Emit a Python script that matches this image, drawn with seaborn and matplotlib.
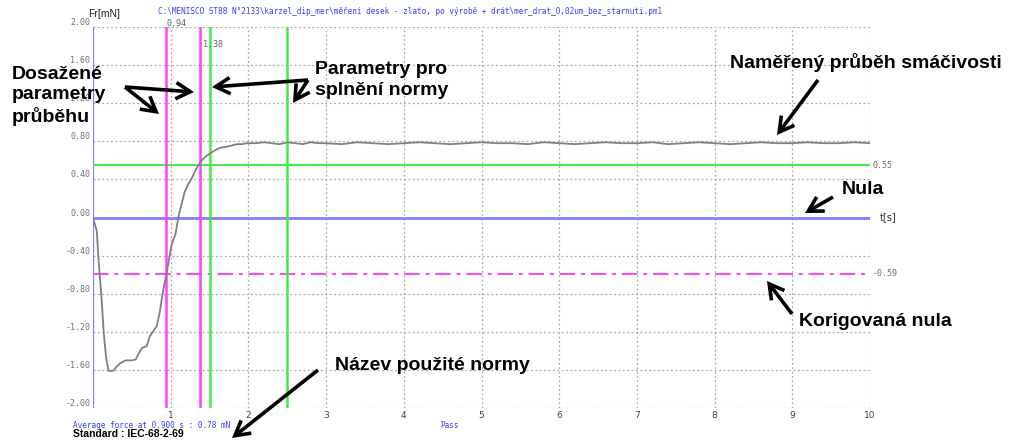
import matplotlib
matplotlib.use("Agg")
import matplotlib.pyplot as plt
from matplotlib.patches import FancyArrowPatch
import seaborn as sns
import pandas as pd

# ---------------- data ----------------
time_s = [0.0, 0.05, 0.07, 0.11, 0.14, 0.17, 0.20, 0.26, 0.30, 0.35, 0.42, 0.50,
          0.55, 0.58, 0.63, 0.69, 0.73, 0.82, 0.86, 0.90, 0.96, 1.01, 1.06, 1.10,
          1.14, 1.18, 1.22, 1.27, 1.31, 1.35, 1.40, 1.45, 1.50, 1.56, 1.63, 1.70,
          1.76, 1.85, 1.92, 1.98,
          2.1, 2.2, 2.3, 2.4, 2.5, 2.6, 2.7, 2.8, 2.9, 3.0, 3.2, 3.4, 3.6, 3.8,
          4.0, 4.2, 4.4, 4.6, 4.8, 5.0, 5.2, 5.4, 5.6, 5.8, 6.0, 6.2, 6.4, 6.6,
          6.8, 7.0, 7.2, 7.4, 7.6, 7.8, 8.0, 8.2, 8.4, 8.6, 8.8, 9.0, 9.2, 9.4,
          9.6, 9.8, 10.0]
force_mN = [0.0, -0.15, -0.43, -0.85, -1.23, -1.48, -1.61, -1.61, -1.57, -1.53, -1.50, -1.50,
            -1.49, -1.44, -1.37, -1.35, -1.25, -1.14, -0.99, -0.78, -0.53, -0.29, -0.18, 0.01,
            0.14, 0.27, 0.34, 0.41, 0.48, 0.54, 0.60, 0.64, 0.67, 0.70, 0.73, 0.74,
            0.75, 0.77, 0.77, 0.78,
            0.78, 0.79, 0.78, 0.77, 0.79, 0.78, 0.77, 0.79, 0.78, 0.78, 0.77, 0.79, 0.78, 0.77,
            0.78, 0.79, 0.78, 0.77, 0.78, 0.79, 0.78, 0.78, 0.77, 0.79, 0.78, 0.77, 0.78, 0.79,
            0.78, 0.78, 0.79, 0.77, 0.78, 0.79, 0.78, 0.77, 0.78, 0.79, 0.78, 0.78, 0.79, 0.78,
            0.78, 0.79, 0.78]

achieved_t = [0.94, 1.38]          # magenta vertical lines
norm_t = [1.5, 2.5]                # green vertical lines
norm_force = 0.55                  # green horizontal
corrected_zero = -0.59             # magenta dash-dot

x_ticks = [1, 2, 3, 4, 5, 6, 7, 8, 9, 10]
x_tick_labels = ["1", "2", "3", "4", "5", "6", "7", "8", "9", "10"]
y_ticks = [2.0, 1.6, 1.2, 0.8, 0.4, 0.0, -0.4, -0.8, -1.2, -1.6, -2.0]
y_tick_labels = ["2.00", "1.60", "1.20", "0.80", "0.40", "0.00", "-0.40", "-0.80",
                 "-1.20", "-1.60", "-2.00"]

title_path = ("C:\\MENISCO ST88 N\u00b02133\\karzel_dip_mer\\m\u011b\u0159en\u00ed desek - zlato, "
              "po v\u00fdrob\u011b + dr\u00e1t\\mer_drat_0,02um_bez_starnuti.pm1")

# ---------------- figure ----------------
sns.set_style("white")
W, H = 1011, 441
fig = plt.figure(figsize=(W / 100, H / 100), dpi=100)
ax = fig.add_axes([93 / W, (H - 408) / H, 777 / W, 381 / H])

BLUE = "#7f7fff"
MAG = "#ff40ff"
GREEN = "#40ee40"
GRID = "#a8a8a8"
MONO = "DejaVu Sans Mono"
BOLD = ["Liberation Sans", "DejaVu Sans"]

ax.set_xlim(0, 10)
ax.set_ylim(-2.0, 2.0)
for s in ax.spines.values():
    s.set_visible(False)

# dotted grid (incl. frame lines)
for xv in x_ticks:
    ax.axvline(xv, color=GRID, lw=0.9, ls=(0, (1.5, 2)), zorder=1)
for yv in y_ticks:
    ax.axhline(yv, color=GRID, lw=0.9, ls=(0, (1.5, 2)), zorder=1)

# reference lines
ax.axvline(0, color=BLUE, lw=1.6, zorder=3)
ax.axhline(0, color=BLUE, lw=2.0, zorder=3)
ax.axhline(norm_force, color=GREEN, lw=1.4, zorder=3)
ax.axhline(corrected_zero, color=MAG, lw=1.4, ls=(0, (8, 3, 2, 3)), zorder=3)
for tv in achieved_t:
    ax.axvline(tv, color=MAG, lw=1.8, zorder=3)
for tv in norm_t:
    ax.axvline(tv, color=GREEN, lw=1.8, zorder=3)

df = pd.DataFrame({"t": time_s, "F": force_mN})
sns.lineplot(data=df, x="t", y="F", ax=ax, color="#808080", lw=1.3, zorder=4)
ax.set_xlabel("")
ax.set_ylabel("")

ax.set_xticks(x_ticks)
ax.set_xticklabels(x_tick_labels, fontsize=6.5, color="#404040")
ax.set_yticks(y_ticks)
ax.set_yticklabels(y_tick_labels, fontsize=6, color="#707070", family=MONO, va="bottom")
ax.tick_params(axis="both", length=0, pad=2)

# small value labels
ax.text(achieved_t[0], 2.04, "0.94", fontsize=6, color="#606060", family=MONO,
        ha="left", va="center")
ax.text(achieved_t[1] + 0.03, 1.82, "1.38", fontsize=6, color="#606060", family=MONO,
        ha="left", va="center")
ax.text(10.03, norm_force, "0.55", fontsize=6, color="#707070", family=MONO,
        ha="left", va="center")
ax.text(10.03, corrected_zero, "-0.59", fontsize=6, color="#707070", family=MONO,
        ha="left", va="center")
ax.text(10.12, 0.0, "t[s]", fontsize=7, color="#303030", ha="left", va="center")


def fp(x, y):
    return (x / W, 1 - y / H)


fig.text(*fp(88, 14), "Fr[mN]", fontsize=7.5, color="#202020", ha="left", va="center",
         family=BOLD)
fig.text(*fp(158, 11), title_path, fontsize=5.5, color="#3a3aff", family=MONO,
         ha="left", va="center")
fig.text(*fp(73, 425), "Average force at 0.900 s : 0.78 mN", fontsize=5.5,
         color="#3a3aff", family=MONO, ha="left", va="center")
fig.text(*fp(440, 426), "Pass", fontsize=5.5, color="#3a3aff", family=MONO,
         ha="left", va="center")
fig.text(*fp(73, 434), "Standard : IEC-68-2-69", fontsize=7.5, color="black",
         family=BOLD, weight="bold", ha="left", va="center")

# big annotations
big = dict(fontsize=14, weight="bold", family=BOLD, color="black", ha="left",
           va="center", linespacing=1.25, zorder=12)
fig.text(*fp(12, 96), "Dosa\u017een\u00e9\nparametry\npr\u016fb\u011bhu", **big)
fig.text(*fp(315, 80), "Parametry pro\nspln\u011bn\u00ed normy", **big)
fig.text(*fp(730, 63), "Nam\u011b\u0159en\u00fd pr\u016fb\u011bh sm\u00e1\u010divosti", **big)
fig.text(*fp(842, 189), "Nula", **big)
fig.text(*fp(799, 322), "Korigovan\u00e1 nula", **big)
fig.text(*fp(335, 365), "N\u00e1zev pou\u017eit\u00e9 normy", **big)

arrows = [((125, 87), (194, 92)), ((125, 87), (159, 114)),
          ((308, 80), (212, 87)), ((308, 80), (293, 103)),
          ((818, 80), (777, 135)), ((833, 197), (805, 213)),
          ((792, 314), (767, 281)), ((318, 370), (232, 438))]
for (x0, y0), (x1, y1) in arrows:
    fig.add_artist(FancyArrowPatch(
        fp(x0, y0), fp(x1, y1), transform=fig.transFigure, zorder=10,
        arrowstyle="->,head_length=0.8,head_width=0.45", mutation_scale=13,
        color="black", lw=2.6, shrinkA=0, shrinkB=0, joinstyle="miter",
        capstyle="butt"))

fig.savefig("out.png", dpi=100)
